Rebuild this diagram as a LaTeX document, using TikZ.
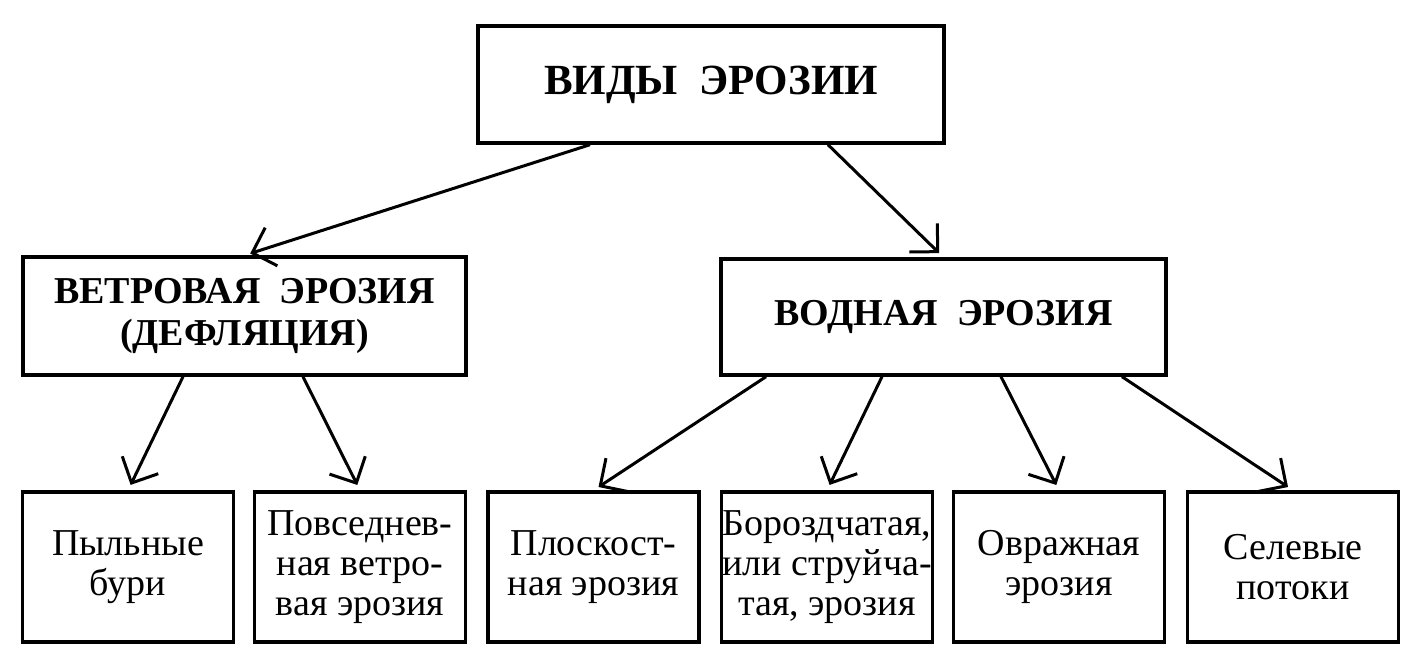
\documentclass[tikz,border=0pt]{standalone}
\usepackage{fontspec}
\setmainfont{Liberation Serif}
\usetikzlibrary{arrows.meta}

\tikzset{
  headbox/.style={draw, line width=1.7pt, align=center, inner sep=0pt,
    font=\fontsize{19}{21}\selectfont\bfseries},
  leafbox/.style={draw, line width=1.7pt, align=center, inner sep=0pt,
    minimum width=105.5pt, minimum height=75pt,
    font=\fontsize{19}{20}\selectfont},
  arr/.style={line width=1.5pt, -{Straight Barb[length=10pt,width=20pt]}, shorten >=3pt}
}

\begin{document}
\begin{tikzpicture}[x=0.5pt,y=-0.5pt]
		% Fix the page to the size of the picture
		\useasboundingbox (0,0) rectangle (1423,666);
		
		% Top level
		\node[headbox, minimum width=233pt, minimum height=58.5pt, font=\fontsize{21.5}{24}\selectfont\bfseries] (kinds) at (711,84.5) {ВИДЫ~~ЭРОЗИИ};
		
		% Second level
		\node[headbox, minimum width=221.5pt, minimum height=59pt] (wind) at (244.5,316) {ВЕТРОВАЯ~~ЭРОЗИЯ\\(ДЕФЛЯЦИЯ)};
		\node[headbox, minimum width=222.5pt, minimum height=58pt] (water) at (943.5,317) {ВОДНАЯ~~ЭРОЗИЯ};
		
		% Third level
		\node[leafbox] (dust) at (128,567) {Пыльные\\бури};
		\node[leafbox] (daily) at (360,567) {Повседнев-\\ная ветро-\\вая эрозия};
		\node[leafbox] (sheet) at (593.5,567) {Плоскост-\\ная эрозия};
		\node[leafbox] (rill) at (827,567) {Бороздчатая,\\или струйча-\\тая, эрозия};
		\node[leafbox] (gully) at (1059,567) {Овражная\\эрозия};
		\node[leafbox] (mud) at (1293,567) {Селевые\\потоки};
		
		% Arrows
		\draw[arr] ([xshift=-60.5pt]kinds.south) -- (wind.north);
		\draw[arr] ([xshift=58.5pt]kinds.south) -- (water.north);
		\draw[arr] ([xshift=-30.75pt]wind.south) -- (dust.north);
		\draw[arr] ([xshift=29.25pt]wind.south) -- (daily.north);
		\draw[arr] ([xshift=-88.75pt]water.south) -- (sheet.north);
		\draw[arr] ([xshift=-30.75pt]water.south) -- (rill.north);
		\draw[arr] ([xshift=28.75pt]water.south) -- (gully.north);
		\draw[arr] ([xshift=89.25pt]water.south) -- (mud.north);
	\end{tikzpicture}
\end{document}
